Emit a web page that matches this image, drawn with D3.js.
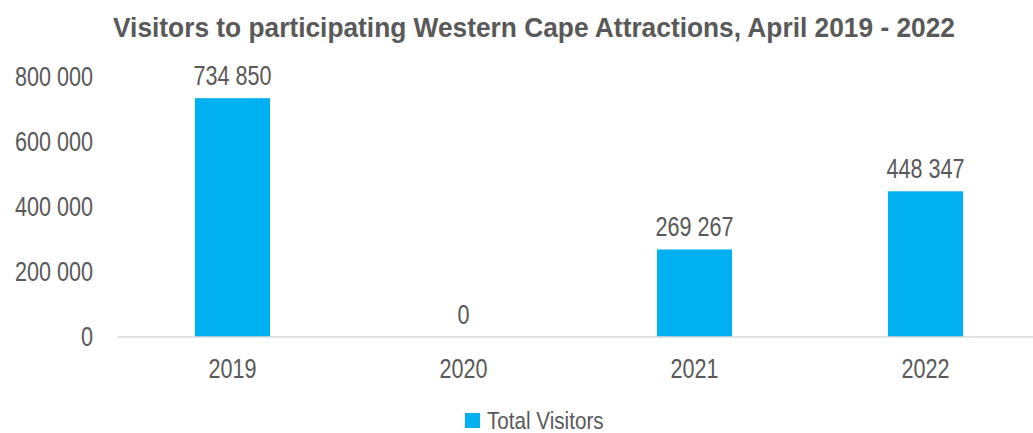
<!DOCTYPE html>
<html>
<head>
<meta charset="utf-8">
<script src="https://cdn.jsdelivr.net/npm/d3@7"></script>
<style>
  html, body { margin: 0; padding: 0; background: #fff; }
  svg { display: block; }
  text { font-family: "Liberation Sans", Arial, sans-serif; fill: #595959; }
</style>
</head>
<body>
<svg id="chart" width="1033" height="433"></svg>
<script>
// Visitor counts per year
const years = ["2019", "2020", "2021", "2022"];
const visitors = [734850, 0, 269267, 448347];
const yTicks = [0, 200000, 400000, 600000, 800000];
const seriesName = "Total Visitors";
const title = "Visitors to participating Western Cape Attractions, April 2019 - 2022";

const svg = d3.select("#chart");
const barColor = "#00B0F0";
const textColor = "#595959";
const narrow = 0.8;      // horizontal squeeze for a condensed look

const locale = d3.formatLocale({ decimal: ".", thousands: " ", grouping: [3], currency: ["", ""] });
const fmt = locale.format(",d");

const x = d3.scaleBand()
  .domain(years)
  .range([117, 1041])
  .paddingInner(0.675)
  .paddingOuter(0.3375);

const y = d3.scaleLinear()
  .domain([0, 800000])
  .range([337, 77]);

// Title
svg.append("text")
  .attr("transform", "translate(534,37) scale(0.94,1)")
  .attr("text-anchor", "middle")
  .style("font-size", "28px")
  .style("font-weight", "bold")
  .text(title);

// Y axis labels (no axis line)
const yAxis = d3.axisLeft(y).tickValues(yTicks).tickFormat(fmt).tickSize(0).tickPadding(0);
const gy = svg.append("g").attr("transform", "translate(93,0)").call(yAxis);
gy.select(".domain").remove();
gy.selectAll("text")
  .style("font-size", "27px")
  .style("font-family", "'Liberation Sans', Arial, sans-serif")
  .attr("fill", textColor)
  .attr("transform", `scale(${narrow},1)`);

// Bars
svg.append("g").selectAll("rect")
  .data(years)
  .join("rect")
  .attr("x", d => x(d))
  .attr("width", x.bandwidth())
  .attr("y", (d, i) => y(visitors[i]))
  .attr("height", (d, i) => y(0) - y(visitors[i]))
  .attr("fill", barColor);

// X axis baseline and labels
const xAxis = d3.axisBottom(x).tickSize(0).tickPadding(0);
const gx = svg.append("g").attr("transform", `translate(0,${y(0)})`).call(xAxis);
gx.select(".domain").attr("stroke", "#d9d9d9").attr("stroke-width", 1.5)
  .attr("d", "M117,0H1033");
gx.selectAll("text")
  .style("font-size", "27px")
  .style("font-family", "'Liberation Sans', Arial, sans-serif")
  .attr("fill", textColor)
  .attr("y", 0)
  .attr("dy", null)
  .attr("transform", `translate(0,41) scale(${narrow},1)`);

// Value labels
svg.append("g").selectAll("text")
  .data(years)
  .join("text")
  .attr("transform", (d, i) =>
    `translate(${x(d) + x.bandwidth() / 2},${y(visitors[i]) - 13.5}) scale(${narrow},1)`)
  .attr("text-anchor", "middle")
  .style("font-size", "27px")
  .text((d, i) => fmt(visitors[i]));

// Legend
const lg = svg.append("g").attr("transform", "translate(465,413)");
lg.append("rect").attr("x", 0).attr("y", 0).attr("width", 15).attr("height", 15).attr("fill", barColor);
lg.append("text")
  .attr("transform", "translate(22,15.5) scale(0.86,1)")
  .style("font-size", "24px")
  .text(seriesName);
</script>
</body>
</html>
